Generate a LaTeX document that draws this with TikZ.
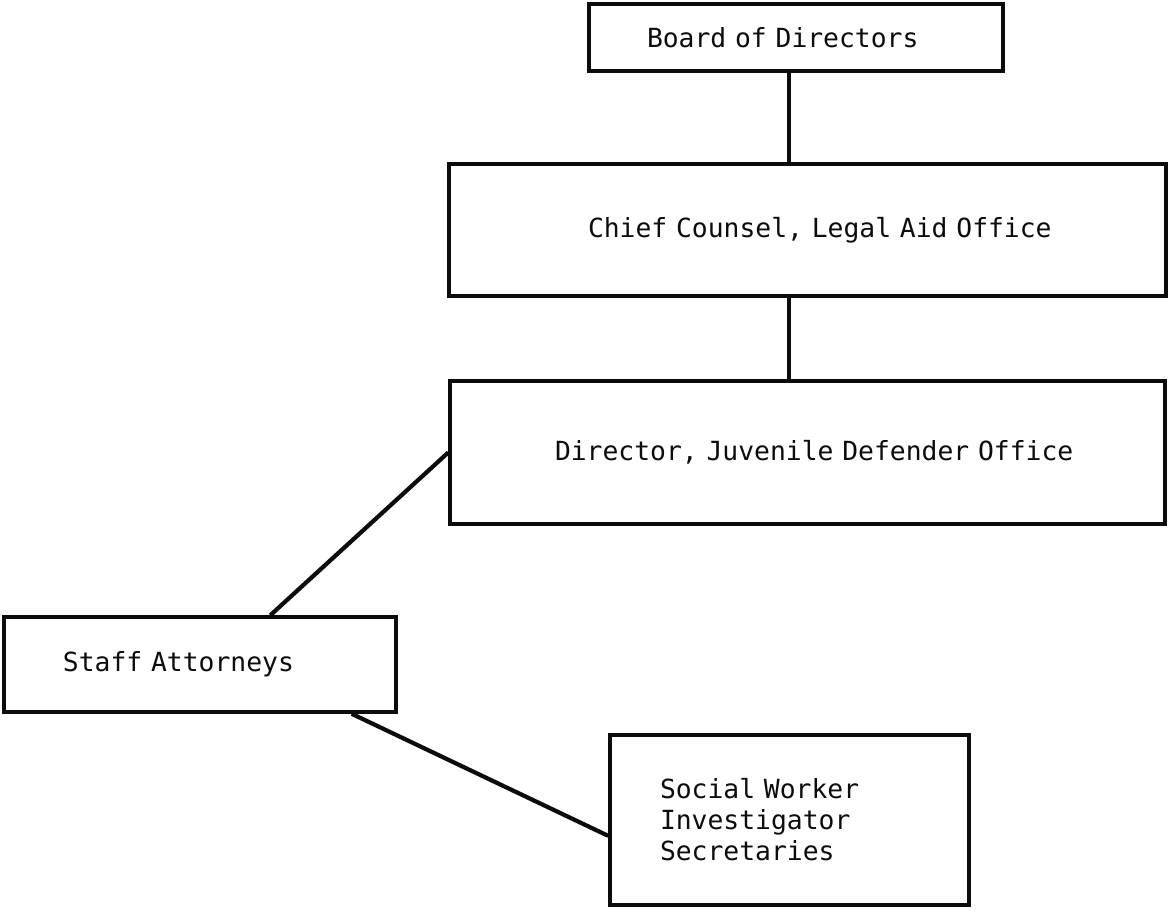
\documentclass[tikz,border=0pt]{standalone}
\usepackage{fontspec}
\usepackage{xcolor}
\usepackage{tikz}
\usetikzlibrary{positioning}
\newfontfamily\chartfont[WordSpace=1.4]{DejaVu Sans Mono}
\newcommand{\chartsize}{\fontsize{15}{17.6}\selectfont}
\definecolor{ink}{RGB}{12,12,12}
\tikzset{
  orgbox/.style={rectangle, draw=ink, line width=2pt, inner xsep=0pt, inner ysep=0pt,
                 align=left, text=ink, font=\chartfont\chartsize},
  link/.style  ={line width=2.4pt, color=ink},
}
\begin{document}
\begin{tikzpicture}[x=0.2mm, y=-0.2mm]
\path[use as bounding box, fill=white] (0,0) rectangle (1169,911);
% boxes, top to bottom
\node[orgbox, minimum width=82.8mm, minimum height=13.4mm, text width=59.6mm] (board) at (796,37.5) {Board of Directors};
\node[orgbox, minimum width=143.4mm, minimum height=26.4mm, text width=87.8mm] (chief) at (807.5,230) {\mbox{Chief Counsel, Legal Aid Office}};
\node[orgbox, minimum width=143mm, minimum height=28.6mm, text width=101mm] (director) at (807.5,452.5) {\mbox{Director, Juvenile Defender Office}};
\node[orgbox, minimum width=78.4mm, minimum height=19mm, text width=54.8mm] (staff) at (200,664.5) {Staff Attorneys};
\node[orgbox, minimum width=71.8mm, minimum height=34mm, text width=51.8mm] (social) at (789.5,820) {Social Worker\\Investigator\\Secretaries};
\coordinate (spine) at (789,0);
% lines
\draw[link] (board.south -| spine) -- (chief.north -| spine);
\draw[link] (chief.south -| spine) -- (director.north -| spine);
\draw[link] (director.west) -- (staff.35);
\draw[link] (staff.-18) -- (social.185);
\end{tikzpicture}
\end{document}
